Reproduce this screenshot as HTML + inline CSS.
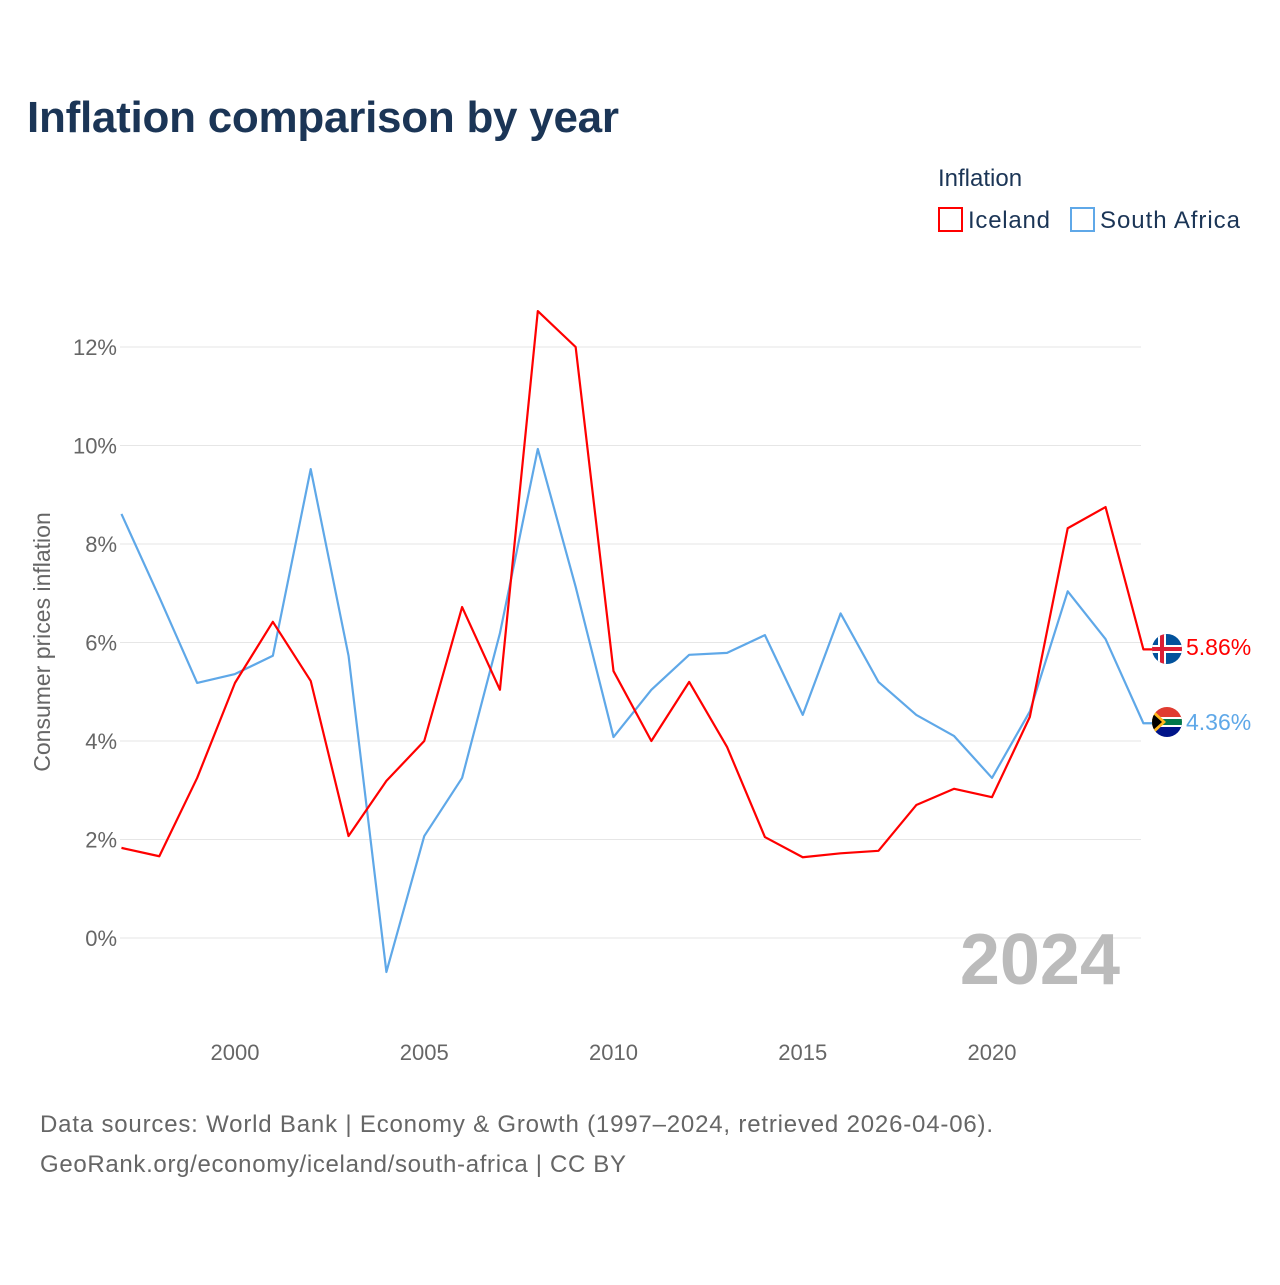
<!DOCTYPE html>
<html><head><meta charset="utf-8"><style>
body{margin:0;background:#fff;font-family:"Liberation Sans",sans-serif;}
svg text{font-family:"Liberation Sans",sans-serif;}
</style></head><body>
<svg width="1280" height="1280" xmlns="http://www.w3.org/2000/svg">
<text x="27" y="132" font-size="44" font-weight="bold" fill="#1b3556" textLength="592">Inflation comparison by year</text>
<text x="938" y="186" font-size="24" fill="#1b3556">Inflation</text>
<g><rect x="939" y="208" width="23" height="23" fill="none" stroke="#ff0000" stroke-width="2"/><text x="968" y="228" font-size="24" fill="#1b3556" textLength="82">Iceland</text></g>
<g><rect x="1071" y="208" width="23" height="23" fill="none" stroke="#5fa8e8" stroke-width="2"/><text x="1100" y="228" font-size="24" fill="#1b3556" textLength="140">South Africa</text></g>
<g id="grid"></g>
<text transform="translate(50,642) rotate(-90)" text-anchor="middle" font-size="23" fill="#666">Consumer prices inflation</text>
<text x="1120" y="984" text-anchor="end" font-size="72" font-weight="bold" fill="#bbb">2024</text>
<g id="series"></g>
<g><clipPath id="c1"><circle cx="1167" cy="649" r="15"/></clipPath><g clip-path="url(#c1)"><rect x="1150" y="632" width="34" height="34" fill="#02529c"/><rect x="1150" y="645" width="34" height="8" fill="#fff"/><rect x="1158" y="632" width="8" height="34" fill="#fff"/><rect x="1150" y="647" width="34" height="4" fill="#dc1e35"/><rect x="1160" y="632" width="4" height="34" fill="#dc1e35"/></g></g>
<g><clipPath id="c2"><circle cx="1167" cy="722" r="15"/></clipPath><g clip-path="url(#c2)"><rect x="1150" y="705" width="34" height="17" fill="#e03c31"/><rect x="1150" y="722" width="34" height="17" fill="#001489"/><rect x="1150" y="717" width="34" height="10" fill="#fff"/><rect x="1150" y="719" width="34" height="6" fill="#007749"/><polygon points="1150,707 1166,722 1150,737" fill="#ffb81c"/><polygon points="1150,711 1162,722 1150,733" fill="#000"/></g></g>
<text x="1186" y="655" font-size="23" fill="#ff0000">5.86%</text>
<text x="1186" y="730" font-size="23" fill="#5fa8e8">4.36%</text>
<text x="40" y="1132" font-size="24" fill="#666" textLength="953">Data sources: World Bank | Economy &amp; Growth (1997–2024, retrieved 2026-04-06).</text>
<text x="40" y="1172" font-size="24" fill="#666" textLength="586">GeoRank.org/economy/iceland/south-africa | CC BY</text>
</svg>
<script>
const years=[1997,1998,1999,2000,2001,2002,2003,2004,2005,2006,2007,2008,2009,2010,2011,2012,2013,2014,2015,2016,2017,2018,2019,2020,2021,2022,2023,2024];
const iceland=[1.83,1.66,3.25,5.18,6.42,5.22,2.07,3.19,4.0,6.72,5.04,12.73,12.0,5.42,4.0,5.2,3.88,2.05,1.64,1.72,1.77,2.7,3.03,2.86,4.49,8.32,8.75,5.86];
const southAfrica=[8.61,6.92,5.18,5.36,5.73,9.52,5.73,-0.69,2.07,3.25,6.19,9.93,7.13,4.08,5.04,5.75,5.79,6.15,4.53,6.59,5.2,4.53,4.1,3.25,4.6,7.04,6.07,4.36];
const yTicks=[0,2,4,6,8,10,12];
const xTicks=[2000,2005,2010,2015,2020];
const ns="http://www.w3.org/2000/svg";
const X=y=>235+(y-2000)*37.85;
const Y=v=>938-v*49.25;
const grid=document.getElementById('grid');
function mk(t,a,p){const e=document.createElementNS(ns,t);for(const k in a)e.setAttribute(k,a[k]);p.appendChild(e);return e;}
yTicks.forEach(v=>{
 const l=mk('line',{x1:120,x2:1141,y1:Y(v),y2:Y(v),stroke:'#e6e6e6','stroke-width':1},grid);
 
 
 const t=mk('text',{x:117,y:Y(v)+8,'text-anchor':'end','font-size':22,fill:'#666'},grid);
 t.textContent=v+'%';
 
 
});
xTicks.forEach(y=>{
 const t=mk('text',{x:X(y),y:1060,'text-anchor':'middle','font-size':22,fill:'#666'},grid);
 t.textContent=y;
 
 
});
const sg=document.getElementById('series');
function line(vals,color,name){
 let pts=vals.map((v,i)=>X(years[i])+','+Y(v));
 pts.push((X(years[years.length-1])+9)+','+Y(vals[vals.length-1]));
 const p=mk('polyline',{points:pts.join(' '),fill:'none',stroke:color,'stroke-width':2.2,'stroke-linejoin':'round'},sg);
 
 
}
line(southAfrica,'#5fa8e8','south-africa-line');
line(iceland,'#ff0000','iceland-line');
</script>
</body></html>
